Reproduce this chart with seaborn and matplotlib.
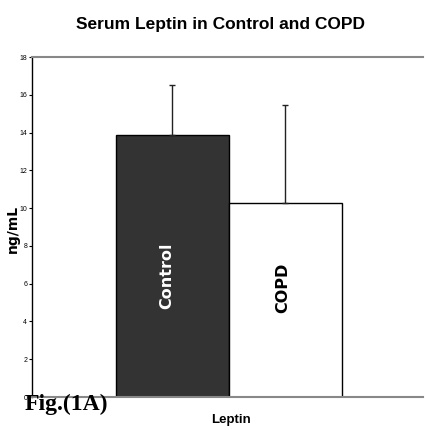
import matplotlib
matplotlib.use("Agg")
import matplotlib.pyplot as plt
import seaborn as sns
import pandas as pd

groups = ["Control", "COPD"]
means = [13.85, 10.25]
sds = [2.65, 5.2]
bar_colors = ["#333333", "#ffffff"]
label_colors = ["white", "black"]
yticks = [0, 2, 4, 6, 8, 10, 12, 14, 16, 18]

sns.set_theme(style="white")
plt.rcParams['font.family'] = ['Liberation Sans', 'DejaVu Sans']
plt.rcParams['text.color'] = 'black'
plt.rcParams['ytick.color'] = 'black'

fig = plt.figure(figsize=(4.25, 4.30), dpi=100)
ax = fig.add_axes([32/425, 33/430, 391/425, 340/430])

df = pd.DataFrame({"group": groups, "mean": means})
sns.barplot(data=df, x="group", y="mean", hue="group", palette=bar_colors,
            width=1.0, edgecolor="black", linewidth=1.0, legend=False, ax=ax,
            errorbar=None)
ax.errorbar(range(len(groups)), means, yerr=[[0]*len(sds), sds], fmt="none",
            ecolor="#222222", elinewidth=1.0, capsize=2, capthick=1.0)

label_y = [6.4, 5.8]
label_dx = [-0.05, -0.02]
for i, (g, c) in enumerate(zip(groups, label_colors)):
    ax.text(i + label_dx[i], label_y[i], g, rotation=90, ha="center", va="center",
            color=c, fontsize=11.5, fontweight="bold", family=["DejaVu Sans"])

ax.set_xlim(-1.243, 2.217)
ax.set_ylim(0, 18)
ax.set_yticks(yticks)
ax.set_yticklabels([str(t) for t in yticks], fontsize=5)
ax.tick_params(axis="y", left=True, length=2.5, width=0.8, pad=1, color="black")
ax.set_xticks([])
ax.set_xlabel("")
ax.set_ylabel("")
ax.spines["right"].set_visible(False)
ax.spines["left"].set_color("black")
ax.spines["left"].set_linewidth(1.0)
ax.spines["bottom"].set_color("#888888")
ax.spines["top"].set_color("#888888")
ax.spines["top"].set_linewidth(1.5)
ax.spines["bottom"].set_linewidth(1.5)

fig.text(221/425, 1 - 25/430, "Serum Leptin in Control and COPD", ha="center",
         va="center", fontsize=12.5, fontweight="bold")
fig.text(13/425, 1 - 229/430, "ng/mL", rotation=90, ha="center", va="center",
         fontsize=10, fontweight="bold", family=["DejaVu Sans"])
fig.text(231/425, 1 - 420/430, "Leptin", ha="center", va="center",
         fontsize=9.5, fontweight="bold")
fig.text(25/425, 1 - 404/430, "Fig.(1A)", ha="left", va="center",
         fontsize=17, fontweight="bold", family=["Liberation Serif", "DejaVu Serif"])

fig.savefig("out.png", dpi=100)
